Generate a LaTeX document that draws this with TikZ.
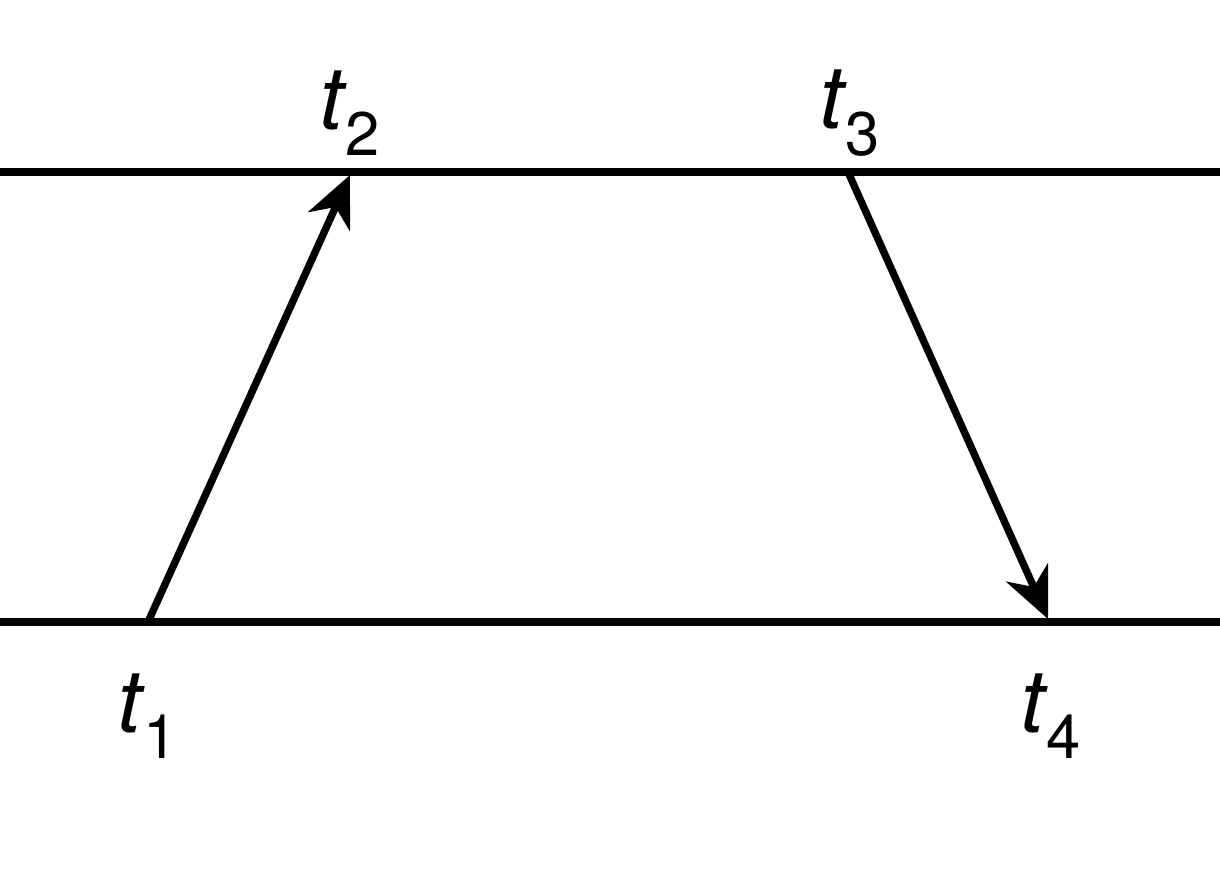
\documentclass[tikz,border=0pt]{standalone}
\usepackage{fontspec}
\setmainfont{TeX Gyre Heros}
\usetikzlibrary{arrows.meta}

\newcommand{\tlab}[1]{\textit{t}\kern-0.02em\raisebox{-0.3em}{\fontsize{35}{40}\selectfont #1}}

\begin{document}
\begin{tikzpicture}[>={Stealth[length=29pt,width=26pt,inset=9pt]},line width=4.2pt,x=0.02cm,y=-0.02cm,
  lbl/.style={inner sep=0pt,font=\fontsize{50}{58}\selectfont}]
\useasboundingbox (0,0) rectangle (1220,884);
% the two time lines
\coordinate (a0) at (0,172);
\coordinate (a1) at (1220,172);
\coordinate (b0) at (0,622);
\coordinate (b1) at (1220,622);
\draw (a0) -- (a1);
\draw (b0) -- (b1);
% send and receive points
\coordinate (p1) at (148,622);
\coordinate (p2) at (350,175);
\coordinate (p3) at (848,172);
\coordinate (p4) at (1048,619);
\draw[->] (p1) -- (p2);
\draw[->] (p3) -- (p4);
\node[lbl] (t1) at (148,716) {\tlab{1}};
\node[lbl] (t2) at (350,113) {\tlab{2}};
\node[lbl] (t3) at (850,113) {\tlab{3}};
\node[lbl] (t4) at (1051,716) {\tlab{4}};
\end{tikzpicture}
\end{document}
